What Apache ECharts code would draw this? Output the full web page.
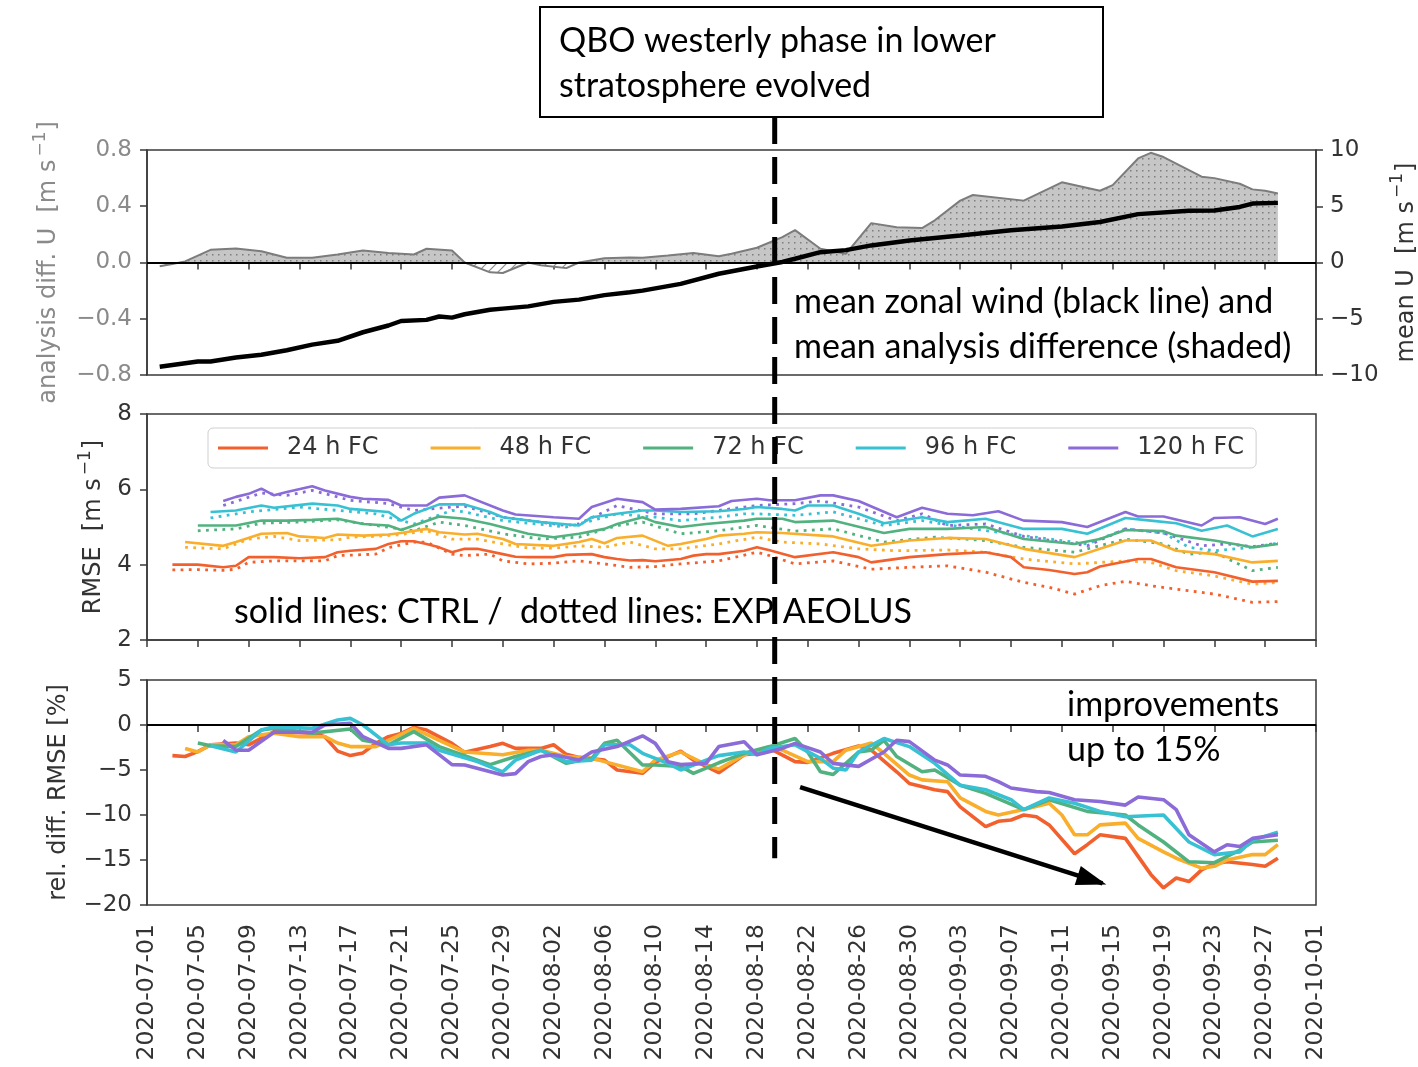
<!DOCTYPE html>
<html>
<head>
<meta charset="utf-8">
<script src="https://cdn.jsdelivr.net/npm/echarts@6/dist/echarts.min.js"></script>
<style>
  html, body { margin: 0; padding: 0; background: #fff; }
  #chart { width: 1418px; height: 1067px; }
</style>
</head>
<body>
<div id="chart"></div>
<script>
// Verification period, values are [day since startDate, value]
const startDate = '2020-07-01';
const dayCount = 92;          // up to 2020-10-01
const tickStepDays = 4;
const qboOnsetDay = 49.4;      // QBO westerly phase reaches lower stratosphere

// Mean zonal wind (right axis, m/s)
const meanU = [[1,-9.26],[4,-8.8],[5,-8.8],[7,-8.45],[9,-8.2],[11,-7.8],[13,-7.3],[15,-6.96],[17,-6.2],[19,-5.6],[20,-5.2],[22,-5.1],[23,-4.8],[24,-4.9],[25,-4.6],[27,-4.2],[28,-4.1],[30,-3.9],[32,-3.5],[34,-3.3],[36,-2.9],[38,-2.65],[39,-2.5],[42,-1.9],[45,-1.0],[48,-0.35],[49,-0.15],[50,0.05],[51,0.33],[53,0.92],[55,1.1],[57,1.52],[60,1.96],[64,2.4],[68,2.86],[72,3.2],[75,3.6],[78,4.3],[82,4.6],[84,4.63],[86,4.94],[87,5.24],[89,5.3]];

// Mean analysis difference U (left axis, m/s)
const analysisDiff = [[1,-0.026],[2,-0.01],[3,0.008],[5,0.09],[7,0.10],[9,0.08],[11,0.034],[13,0.034],[15,0.057],[17,0.086],[19,0.067],[21,0.057],[22,0.098],[24,0.086],[25,0.0],[27,-0.07],[28,-0.075],[30,0.0],[31,-0.02],[33,-0.04],[34,0.0],[36,0.03],[38,0.035],[39,0.034],[41,0.05],[43,0.067],[45,0.045],[46,0.062],[48,0.105],[50,0.18],[51,0.23],[53,0.098],[55,0.062],[57,0.28],[59,0.25],[61,0.245],[62,0.3],[64,0.44],[65,0.48],[69,0.44],[72,0.57],[75,0.51],[76,0.55],[78,0.74],[79,0.78],[80,0.75],[83,0.61],[84,0.6],[86,0.56],[87,0.52],[88,0.51],[89,0.49]];

// Forecast lead times
const leadNames = ['24 h FC', '48 h FC', '72 h FC', '96 h FC', '120 h FC'];
const leadColors = ['#f2612d', '#f9ae2c', '#52b27f', '#37c1d2', '#8a6bd8'];

// RMSE (m/s), CTRL
const rmseCtrl24 = [[2,4.0],[4,4.0],[6,3.93],[7,3.97],[8,4.2],[10,4.2],[12,4.17],[14,4.2],[15,4.33],[16,4.37],[18,4.42],[19,4.55],[20,4.62],[21,4.62],[22,4.55],[23,4.46],[24,4.33],[25,4.42],[26,4.42],[28,4.28],[29,4.21],[30,4.2],[32,4.2],[33,4.26],[35,4.28],[36,4.2],[37,4.15],[38,4.11],[39,4.12],[40,4.09],[42,4.15],[43,4.24],[44,4.28],[45,4.28],[47,4.37],[48,4.46],[49,4.38],[51,4.2],[54,4.33],[56,4.2],[57,4.06],[60,4.2],[63,4.28],[66,4.33],[68,4.2],[69,3.93],[71,3.86],[73,3.75],[74,3.8],[75,3.95],[78,4.15],[79,4.15],[81,3.93],[84,3.8],[87,3.55],[89,3.57]];
const rmseCtrl48 = [[3,4.6],[6,4.5],[7,4.6],[9,4.82],[11,4.84],[12,4.75],[14,4.71],[15,4.8],[17,4.77],[19,4.8],[20,4.84],[22,4.95],[23,4.86],[25,4.8],[26,4.82],[28,4.68],[29,4.55],[32,4.5],[34,4.6],[35,4.68],[36,4.57],[37,4.71],[39,4.77],[41,4.5],[42,4.55],[44,4.68],[45,4.77],[47,4.82],[48,4.86],[50,4.84],[54,4.75],[57,4.5],[60,4.64],[63,4.71],[66,4.68],[69,4.42],[73,4.2],[75,4.42],[77,4.64],[79,4.64],[81,4.37],[84,4.28],[87,4.06],[89,4.1]];
const rmseCtrl72 = [[4,5.04],[7,5.04],[9,5.17],[11,5.17],[13,5.19],[15,5.22],[17,5.08],[19,5.04],[20,4.92],[21,5.04],[23,5.28],[25,5.22],[27,5.08],[30,4.82],[32,4.73],[34,4.82],[36,4.95],[37,5.08],[39,5.26],[40,5.13],[42,5.0],[44,5.08],[47,5.17],[48,5.22],[50,5.22],[51,5.13],[54,5.17],[58,4.84],[60,4.95],[63,4.95],[66,5.0],[69,4.68],[73,4.55],[75,4.68],[77,4.92],[80,4.89],[81,4.77],[84,4.64],[87,4.46],[89,4.55]];
const rmseCtrl96 = [[5,5.4],[7,5.44],[9,5.57],[10,5.51],[13,5.62],[15,5.57],[16,5.48],[19,5.4],[20,5.17],[21,5.35],[23,5.6],[25,5.6],[27,5.4],[28,5.26],[31,5.13],[34,5.04],[35,5.26],[37,5.35],[39,5.44],[40,5.44],[42,5.4],[45,5.42],[47,5.48],[48,5.53],[50,5.48],[51,5.44],[52,5.57],[54,5.57],[56,5.35],[58,5.1],[61,5.26],[63,5.13],[66,5.22],[69,4.95],[72,4.95],[74,4.82],[77,5.24],[79,5.17],[81,5.1],[83,4.9],[85,5.04],[87,4.75],[89,4.95]];
const rmseCtrl120 = [[6,5.69],[7,5.8],[8,5.88],[9,6.02],[10,5.84],[11,5.93],[13,6.08],[14,5.97],[16,5.8],[17,5.75],[19,5.72],[20,5.57],[22,5.57],[23,5.78],[25,5.84],[28,5.44],[29,5.33],[32,5.26],[34,5.22],[35,5.53],[37,5.75],[39,5.66],[40,5.46],[42,5.48],[45,5.55],[46,5.69],[48,5.75],[49,5.71],[51,5.71],[53,5.84],[54,5.84],[56,5.69],[59,5.26],[61,5.51],[63,5.35],[65,5.31],[67,5.42],[69,5.17],[72,5.13],[74,5.0],[77,5.4],[78,5.28],[80,5.28],[83,5.04],[84,5.24],[86,5.26],[88,5.08],[89,5.22]];

// RMSE (m/s), EXP AEOLUS
const rmseExp24 = [[2,3.86],[4,3.87],[6,3.85],[7,3.88],[8,4.06],[10,4.1],[14,4.1],[15,4.24],[18,4.28],[19,4.45],[21,4.6],[22,4.6],[24,4.28],[25,4.24],[27,4.28],[28,4.1],[30,4.02],[32,4.04],[34,4.1],[36,4.02],[38,3.93],[40,3.95],[42,4.02],[45,4.1],[48,4.33],[49,4.24],[51,4.02],[54,4.1],[57,3.88],[60,3.93],[63,3.97],[66,3.8],[69,3.53],[71,3.4],[73,3.22],[75,3.44],[77,3.56],[79,3.44],[81,3.35],[84,3.22],[87,3.0],[89,3.02]];
const rmseExp48 = [[3,4.46],[6,4.42],[8,4.68],[10,4.75],[12,4.64],[15,4.66],[16,4.73],[18,4.75],[20,4.8],[22,4.9],[24,4.68],[26,4.68],[28,4.55],[30,4.44],[32,4.44],[34,4.5],[36,4.46],[38,4.6],[40,4.42],[42,4.42],[45,4.55],[48,4.73],[50,4.6],[53,4.55],[56,4.42],[59,4.37],[63,4.39],[66,4.33],[69,4.15],[73,4.02],[77,4.1],[79,4.06],[81,3.84],[84,3.7],[87,3.48],[89,3.53]];
const rmseExp72 = [[4,4.9],[7,4.95],[9,5.1],[12,5.13],[15,5.19],[18,5.04],[21,4.9],[23,5.13],[25,5.04],[28,4.82],[31,4.68],[34,4.73],[37,5.04],[39,5.13],[42,4.82],[45,4.9],[47,5.0],[48,5.04],[51,4.89],[54,4.95],[58,4.6],[62,4.73],[66,4.64],[69,4.46],[73,4.33],[77,4.68],[80,4.55],[82,4.28],[84,4.33],[87,3.84],[89,3.93]];
const rmseExp96 = [[5,5.24],[8,5.4],[12,5.53],[15,5.44],[18,5.35],[21,5.08],[24,5.44],[25,5.4],[28,5.17],[33,5.0],[34,5.08],[37,5.35],[40,5.26],[42,5.17],[45,5.26],[47,5.35],[48,5.35],[51,5.31],[54,5.4],[58,5.04],[61,5.17],[65,4.95],[69,4.77],[74,4.55],[77,4.95],[80,4.84],[82,4.46],[84,4.37],[87,4.46],[89,4.57]];
const rmseExp120 = [[6,5.57],[9,5.9],[11,5.84],[13,5.97],[16,5.71],[19,5.62],[21,5.44],[24,5.53],[25,5.55],[28,5.26],[33,5.04],[34,5.08],[37,5.57],[40,5.35],[43,5.35],[45,5.44],[47,5.53],[48,5.57],[51,5.62],[53,5.69],[56,5.53],[59,5.17],[61,5.35],[63,5.04],[66,5.08],[69,4.75],[74,4.5],[77,4.95],[80,4.84],[83,4.5],[85,4.55],[87,4.48],[89,4.57]];

// Relative RMSE difference EXP vs CTRL (%)
const relDiff24 = [[2,-3.4],[3,-3.5],[4,-2.96],[5,-2.2],[7,-2.0],[8,-2.2],[10,-0.74],[13,-0.9],[14,-1.3],[15,-2.9],[16,-3.4],[17,-3.1],[18,-2.04],[19,-1.3],[20,-0.93],[21,-0.26],[22,-0.56],[24,-2.04],[25,-3.04],[27,-2.4],[28,-2.04],[29,-2.6],[31,-2.6],[32,-2.2],[33,-3.26],[34,-3.6],[36,-3.9],[37,-5.0],[39,-5.37],[40,-4.15],[42,-2.9],[43,-3.9],[45,-5.3],[47,-3.3],[48,-3.15],[49,-2.6],[51,-4.07],[52,-4.15],[54,-3.15],[56,-2.33],[57,-2.78],[59,-5.2],[60,-6.5],[62,-7.2],[63,-7.4],[64,-9.1],[66,-11.3],[67,-10.7],[68,-10.55],[69,-10.0],[70,-10.2],[71,-11.1],[73,-14.3],[74,-13.3],[75,-12.2],[77,-12.6],[78,-14.6],[79,-16.6],[80,-18.1],[81,-17.0],[82,-17.4],[83,-16.1],[84,-15.4],[85,-15.2],[87,-15.5],[88,-15.7],[89,-14.8]];
const relDiff48 = [[3,-2.6],[4,-3.0],[5,-2.2],[7,-2.2],[8,-1.3],[10,-0.9],[12,-1.3],[14,-1.3],[15,-2.0],[16,-2.4],[18,-2.4],[19,-1.7],[21,-0.37],[23,-1.7],[25,-3.0],[28,-3.3],[30,-2.8],[31,-2.8],[33,-3.5],[35,-3.7],[36,-4.07],[39,-5.2],[40,-3.9],[42,-3.0],[44,-4.4],[45,-4.9],[47,-3.3],[49,-2.4],[50,-2.8],[52,-4.07],[54,-4.07],[55,-2.8],[57,-2.0],[58,-3.15],[60,-5.56],[61,-6.1],[63,-6.3],[64,-8.1],[66,-9.6],[67,-10.0],[69,-9.4],[71,-8.7],[72,-10.0],[73,-12.2],[74,-12.2],[75,-11.1],[77,-10.9],[78,-12.6],[80,-14.1],[81,-14.8],[83,-15.9],[84,-15.7],[85,-15.0],[87,-14.4],[88,-14.4],[89,-13.3]];
const relDiff72 = [[4,-2.0],[5,-2.3],[7,-2.4],[9,-0.56],[10,-0.37],[13,-0.9],[16,-0.44],[17,-1.7],[19,-2.2],[21,-0.74],[23,-2.4],[27,-4.4],[29,-3.5],[31,-2.8],[33,-4.26],[35,-3.7],[36,-2.04],[37,-1.7],[39,-4.44],[40,-4.44],[42,-4.6],[43,-5.37],[45,-4.2],[47,-3.15],[49,-2.4],[51,-1.5],[52,-3.0],[53,-5.2],[54,-5.5],[56,-3.0],[57,-2.8],[58,-1.7],[59,-3.5],[61,-5.2],[62,-5.0],[64,-6.7],[66,-7.6],[69,-9.4],[71,-8.3],[74,-9.6],[77,-10.0],[78,-11.1],[80,-13.0],[82,-15.2],[84,-15.3],[86,-13.9],[87,-13.0],[89,-12.8]];
const relDiff96 = [[5,-2.3],[7,-3.0],[9,-0.56],[10,-0.19],[13,-0.37],[15,0.56],[16,0.74],[17,0.0],[19,-2.2],[20,-2.0],[22,-2.0],[23,-2.8],[26,-4.07],[28,-5.2],[29,-3.9],[31,-2.8],[33,-4.07],[35,-3.9],[36,-2.2],[38,-2.2],[39,-3.15],[41,-4.26],[42,-5.0],[44,-3.9],[45,-3.4],[47,-3.0],[48,-3.3],[49,-2.6],[51,-2.2],[53,-3.7],[54,-4.8],[55,-5.0],[56,-3.0],[58,-1.5],[60,-2.4],[62,-4.26],[64,-6.7],[66,-7.2],[68,-8.3],[69,-9.4],[71,-8.1],[73,-8.7],[75,-9.6],[77,-10.2],[80,-10.0],[82,-13.0],[84,-14.4],[86,-14.1],[87,-12.8],[89,-11.9]];
const relDiff120 = [[6,-1.7],[7,-2.8],[8,-2.8],[10,-0.8],[13,-0.8],[14,0.0],[16,0.2],[17,-1.3],[19,-2.6],[20,-2.6],[22,-2.2],[24,-4.4],[25,-4.44],[28,-5.56],[29,-5.4],[30,-4.07],[31,-3.5],[32,-3.3],[34,-3.9],[35,-3.0],[37,-2.4],[39,-1.2],[40,-2.04],[41,-4.07],[42,-4.4],[44,-4.26],[45,-2.4],[47,-1.85],[48,-3.3],[50,-2.6],[51,-2.04],[53,-3.0],[54,-4.26],[56,-4.6],[58,-3.0],[59,-1.7],[60,-1.85],[62,-3.9],[63,-4.44],[64,-5.56],[66,-5.7],[67,-6.3],[68,-7.0],[70,-7.4],[71,-7.5],[73,-8.3],[75,-8.5],[77,-8.9],[78,-8.0],[80,-8.3],[81,-9.4],[82,-12.2],[84,-14.1],[85,-13.3],[86,-13.5],[87,-12.6],[89,-12.2]];

// Trend arrow in the bottom panel: [day, %] start and end
const trendArrow = [[51.4, -6.9], [75.2, -17.6]];

const rmseCtrl = [rmseCtrl24, rmseCtrl48, rmseCtrl72, rmseCtrl96, rmseCtrl120];
const rmseExp = [rmseExp24, rmseExp48, rmseExp72, rmseExp96, rmseExp120];
const relDiff = [relDiff24, relDiff48, relDiff72, relDiff96, relDiff120];

// ---------- fill patterns for the analysis difference ----------
function dotPattern() {
  const c = document.createElement('canvas');
  c.width = 6; c.height = 6;
  const g = c.getContext('2d');
  g.fillStyle = '#c6c6c6'; g.fillRect(0, 0, 6, 6);
  g.fillStyle = '#7d7d7d'; g.fillRect(2, 2, 1.5, 1.5);
  return c;
}
function hatchPattern() {
  const c = document.createElement('canvas');
  c.width = 10; c.height = 10;
  const g = c.getContext('2d');
  g.fillStyle = '#ffffff'; g.fillRect(0, 0, 10, 10);
  g.strokeStyle = '#8a8a8a'; g.lineWidth = 1.2;
  g.beginPath();
  g.moveTo(0, 10); g.lineTo(10, 0);
  g.moveTo(-5, 5); g.lineTo(5, -5);
  g.moveTo(5, 15); g.lineTo(15, 5);
  g.stroke();
  return c;
}

const startMs = Date.parse(startDate + 'T00:00:00Z');
function dayLabel(v) {
  return new Date(startMs + v * 86400000).toISOString().slice(0, 10);
}
function minusFmt(s) { return String(s).replace('-', '\u2212'); }

const FONT = 'DejaVu Sans';
const AXIS_COLOR = '#3a3a3a';
const GRID_LEFT = 147, GRID_RIGHT = 102;

const grids = [
  { left: GRID_LEFT, right: GRID_RIGHT, top: 150, height: 225 },
  { left: GRID_LEFT, right: GRID_RIGHT, top: 414, height: 226 },
  { left: GRID_LEFT, right: GRID_RIGHT, top: 680, height: 225 }
].map(g => Object.assign(g, { show: true, borderColor: AXIS_COLOR, borderWidth: 1.5, outerBoundsMode: 'none' }));

function xAxisFor(i) {
  return {
    type: 'value', gridIndex: i, min: 0, max: dayCount, interval: tickStepDays,
    axisLine: { show: true, lineStyle: { color: AXIS_COLOR, width: 1.5 } },
    axisTick: { show: true, inside: false, length: 7, lineStyle: { color: AXIS_COLOR, width: 1.5 } },
    splitLine: { show: false },
    axisLabel: i === 2 ? {
      show: true, rotate: 90, fontFamily: FONT, fontSize: 23.5, color: '#333', margin: 19,
      formatter: dayLabel
    } : { show: false }
  };
}

const yBase = {
  type: 'value',
  axisLine: { show: true, lineStyle: { color: AXIS_COLOR, width: 1.5 } },
  axisTick: { show: true, inside: false, length: 7, lineStyle: { color: AXIS_COLOR, width: 1.5 } },
  splitLine: { show: false },
  nameLocation: 'middle', nameRotate: 90
};

// Axis title with a superscript "−1" on the unit
function unitName(prefix) { return '{n|' + prefix + '[m s}{s|\u22121}{n|]}'; }
function unitRich(color) {
  return {
    n: { fontFamily: FONT, fontSize: 24, color: color, lineHeight: 34 },
    s: { fontFamily: FONT, fontSize: 17, color: color, lineHeight: 34, verticalAlign: 'top', padding: [0, 1, 0, 3] }
  };
}

const yAxes = [
  Object.assign({}, yBase, {
    gridIndex: 0, position: 'left', min: -0.8, max: 0.8, interval: 0.4,
    name: unitName('analysis diff. U  '), nameGap: 81,
    nameTextStyle: { fontFamily: FONT, fontSize: 24, color: '#8a8a8a', rich: unitRich('#8a8a8a') },
    axisLabel: { fontFamily: FONT, fontSize: 23, color: '#8a8a8a', margin: 15,
      formatter: v => minusFmt(v.toFixed(1)) }
  }),
  Object.assign({}, yBase, {
    gridIndex: 0, position: 'right', min: -10, max: 10, interval: 5,
    name: unitName('mean U  '), nameGap: 68,
    nameTextStyle: { fontFamily: FONT, fontSize: 24, color: '#333', rich: unitRich('#333') },
    axisLabel: { fontFamily: FONT, fontSize: 23, color: '#333', margin: 14, formatter: v => minusFmt(v) }
  }),
  Object.assign({}, yBase, {
    gridIndex: 1, position: 'left', min: 2, max: 8, interval: 2,
    name: unitName('RMSE  '), nameGap: 36,
    nameTextStyle: { fontFamily: FONT, fontSize: 24, color: '#333', rich: unitRich('#333') },
    axisLabel: { fontFamily: FONT, fontSize: 23, color: '#333', margin: 15 }
  }),
  Object.assign({}, yBase, {
    gridIndex: 2, position: 'left', min: -20, max: 5, interval: 5,
    name: 'rel. diff. RMSE [%]', nameGap: 76,
    nameTextStyle: { fontFamily: FONT, fontSize: 24, color: '#333' },
    axisLabel: { fontFamily: FONT, fontSize: 23, color: '#333', margin: 15, formatter: v => minusFmt(v) }
  })
];

const zeroLine = {
  silent: true, symbol: 'none', label: { show: false },
  lineStyle: { color: '#000', width: 2, type: 'solid' },
  data: [{ yAxis: 0 }]
};

const series = [];

// Top panel: shaded analysis difference (positive dotted, negative hatched) and mean U
series.push({
  type: 'line', name: 'diffPos', xAxisIndex: 0, yAxisIndex: 0, showSymbol: false, silent: true,
  data: analysisDiff.map(([d, v]) => [d, Math.max(v, 0)]),
  lineStyle: { width: 0 },
  areaStyle: { color: { image: dotPattern(), repeat: 'repeat' }, opacity: 1 },
  z: 1
});
series.push({
  type: 'line', name: 'diffNeg', xAxisIndex: 0, yAxisIndex: 0, showSymbol: false, silent: true,
  data: analysisDiff.map(([d, v]) => [d, Math.min(v, 0)]),
  lineStyle: { width: 0 },
  areaStyle: { color: { image: hatchPattern(), repeat: 'repeat' }, opacity: 1 },
  z: 1
});
series.push({
  type: 'line', name: 'diffOutline', xAxisIndex: 0, yAxisIndex: 0, showSymbol: false, silent: true,
  data: analysisDiff,
  lineStyle: { color: '#7c7c7c', width: 2 },
  markLine: zeroLine,
  z: 2
});
series.push({
  type: 'line', name: 'meanU', xAxisIndex: 0, yAxisIndex: 1, showSymbol: false, silent: true,
  data: meanU,
  lineStyle: { color: '#000', width: 4.5 },
  z: 3
});

// Middle panel: RMSE, CTRL solid and EXP AEOLUS dotted
leadNames.forEach((name, i) => {
  series.push({
    type: 'line', name: name, xAxisIndex: 1, yAxisIndex: 2, showSymbol: false,
    data: rmseCtrl[i], color: leadColors[i],
    lineStyle: { color: leadColors[i], width: 2.6 }, z: 3
  });
  series.push({
    type: 'line', name: name + ' EXP', xAxisIndex: 1, yAxisIndex: 2, showSymbol: false,
    data: rmseExp[i], color: leadColors[i],
    lineStyle: { color: leadColors[i], width: 2.8, type: [2.8, 5.4] }, z: 2
  });
});

// Bottom panel: relative RMSE difference
leadNames.forEach((name, i) => {
  const s = {
    type: 'line', name: name + ' rel', xAxisIndex: 2, yAxisIndex: 3, showSymbol: false,
    data: relDiff[i], color: leadColors[i],
    lineStyle: { color: leadColors[i], width: 3.6 }, z: 3
  };
  if (i === 0) s.markLine = zeroLine;
  series.push(s);
});
series.push({
  type: 'line', name: 'trend', xAxisIndex: 2, yAxisIndex: 3, showSymbol: false, silent: true,
  data: trendArrow, lineStyle: { color: '#000', width: 4.5 },
  z: 10
});

const chart = echarts.init(document.getElementById('chart'), null, { renderer: 'canvas' });
chart.setOption({
  animation: false,
  backgroundColor: '#ffffff',
  grid: grids,
  xAxis: [0, 1, 2].map(xAxisFor),
  yAxis: yAxes,
  legend: {
    data: leadNames,
    left: 208, top: 428,
    orient: 'horizontal',
    icon: 'rect', itemWidth: 50, itemHeight: 3, itemGap: 52,
    padding: [8, 12, 8, 10],
    backgroundColor: '#fff', borderColor: '#cfcfcf', borderWidth: 1, borderRadius: 5,
    textStyle: { fontFamily: FONT, fontSize: 24, color: '#333', padding: [0, 0, 0, 14] },
    selectedMode: false
  },
  series: series
});

// Annotations: dashed QBO marker, trend arrow head, text boxes
const xOnset = chart.convertToPixel({ xAxisIndex: 0 }, qboOnsetDay);
const yDashEnd = chart.convertToPixel({ yAxisIndex: 3 }, -14.8);
const pA = chart.convertToPixel({ xAxisIndex: 2, yAxisIndex: 3 }, trendArrow[0]);
const pB = chart.convertToPixel({ xAxisIndex: 2, yAxisIndex: 3 }, trendArrow[1]);
const ang = Math.atan2(pB[1] - pA[1], pB[0] - pA[0]);
const headLen = 26, headHalf = 10;
function rot(dx, dy) {
  return [pB[0] + dx * Math.cos(ang) - dy * Math.sin(ang), pB[1] + dx * Math.sin(ang) + dy * Math.cos(ang)];
}
const ANNOT_FONT = '34px Lato';

chart.setOption({
  graphic: [
    {
      type: 'line', z: 100, silent: true,
      shape: { x1: xOnset, y1: 117, x2: xOnset, y2: yDashEnd },
      style: { stroke: '#000', lineWidth: 5, lineDash: [27, 13] }
    },
    {
      type: 'polygon', z: 100, silent: true,
      shape: { points: [rot(4, 0), rot(-headLen, -headHalf), rot(-headLen, headHalf)] },
      style: { fill: '#000' }
    },
    {
      type: 'rect', z: 101, silent: true,
      shape: { x: 540, y: 7, width: 563, height: 110 },
      style: { fill: '#fff', stroke: '#000', lineWidth: 2 }
    },
    {
      type: 'text', z: 102, silent: true, left: 559, top: 19,
      style: { text: 'QBO westerly phase in lower\nstratosphere evolved', font: ANNOT_FONT, fill: '#000', lineHeight: 45 }
    },
    {
      type: 'text', z: 102, silent: true, left: 794, top: 280,
      style: { text: 'mean zonal wind (black line) and\nmean analysis difference (shaded)', font: ANNOT_FONT, fill: '#000', lineHeight: 45 }
    },
    {
      type: 'text', z: 102, silent: true, left: 234, top: 590,
      style: { text: 'solid lines: CTRL /  dotted lines: EXP AEOLUS', font: ANNOT_FONT, fill: '#000', lineHeight: 45 }
    },
    {
      type: 'text', z: 102, silent: true, left: 1067, top: 683,
      style: { text: 'improvements\nup to 15%', font: ANNOT_FONT, fill: '#000', lineHeight: 45 }
    }
  ]
});
</script>
</body>
</html>
